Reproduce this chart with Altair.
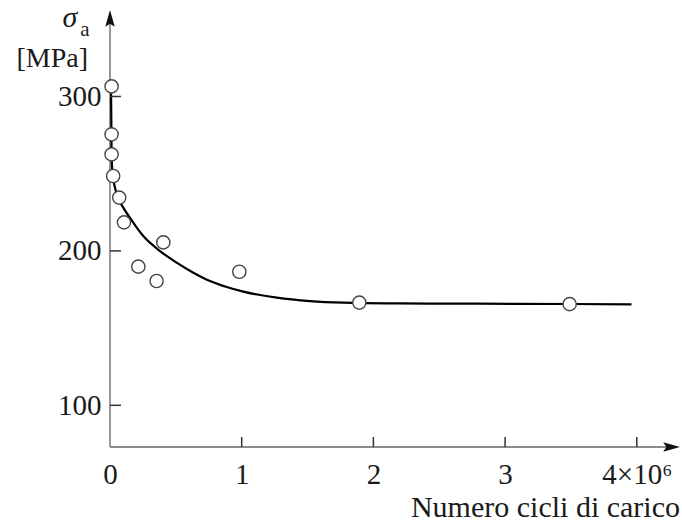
import altair as alt
import pandas as pd

# Measured points (cycles in units of 10^6, stress amplitude in MPa)
pts_x = [0.012, 0.012, 0.012, 0.024, 0.07, 0.106, 0.405, 0.215, 0.354, 0.982, 1.893, 3.49]
pts_y = [306.5, 275.5, 262.5, 248.5, 234.5, 218.5, 205.5, 189.8, 180.5, 186.5, 166.5, 165.5]

# Fitted curve
curve_x = [0.008, 0.010, 0.012, 0.018, 0.035, 0.063, 0.101, 0.177, 0.253, 0.38, 0.506,
           0.633, 0.759, 0.886, 1.012, 1.266, 1.519, 1.77, 2.2, 2.8, 3.5, 3.96]
curve_y = [302, 285, 265, 251, 242, 234, 228, 218.3, 209.6, 199.9, 192.4,
           185.9, 180.5, 176.6, 173.6, 169.7, 167.5, 166.5, 166.0, 165.8, 165.6, 165.3]

x_ticks = [0, 1, 2, 3, 4]
y_ticks = [100, 200, 300]
x_title = "Numero cicli di carico"
y_title_sym = "σ"
y_title_sub = "a"
y_title_unit = "[MPa]"

W, H = 570, 437
X_DOMAIN = [0, 4.328]
Y_DOMAIN = [73, 356]
FONT = "Liberation Serif"
AXIS_COLOR = "#8c8c8c"

pts = pd.DataFrame({"x": pts_x, "y": pts_y})
curve = pd.DataFrame({"x": curve_x, "y": curve_y})
xt = pd.DataFrame({"x": x_ticks[1:]})
yt = pd.DataFrame({"y": y_ticks})

xscale = alt.Scale(domain=X_DOMAIN, nice=False, zero=False)
yscale = alt.Scale(domain=Y_DOMAIN, nice=False, zero=False)

x_axis = alt.Axis(values=x_ticks, format="d", domain=False, ticks=False, grid=False,
                  labelFont=FONT, labelFontSize=29, labelColor="#1a1a1a",
                  labelPadding=13, labelFlush=False, title=None,
                  labelExpr="datum.value == 4 ? '4×10⁶' : datum.label")
y_axis = alt.Axis(values=y_ticks, format="d", domain=False, ticks=False, grid=False,
                  labelFont=FONT, labelFontSize=29, labelColor="#1a1a1a",
                  labelPadding=9, labelFlush=False, title=None)

line = alt.Chart(curve).mark_line(color="black", strokeWidth=2.2, interpolate="monotone").encode(
    x=alt.X("x:Q", scale=xscale, axis=x_axis),
    y=alt.Y("y:Q", scale=yscale, axis=y_axis),
)

points = alt.Chart(pts).mark_point(shape="circle", filled=True, fill="white",
                                   stroke="#444444", strokeWidth=1.4, size=175, opacity=1).encode(
    x=alt.X("x:Q", scale=xscale),
    y=alt.Y("y:Q", scale=yscale),
)

# axis lines
yline = alt.Chart().mark_rule(color=AXIS_COLOR, strokeWidth=1.8).encode(
    x=alt.value(0), y=alt.value(6), y2=alt.value(H))
xline = alt.Chart().mark_rule(color=AXIS_COLOR, strokeWidth=1.8).encode(
    x=alt.value(0), x2=alt.value(W - 6), y=alt.value(H))

# inward ticks
xticks_m = alt.Chart(xt).mark_rule(color="#333333", strokeWidth=1.5).encode(
    x=alt.X("x:Q", scale=xscale), y=alt.value(H - 10), y2=alt.value(H))
yticks_m = alt.Chart(yt).mark_rule(color="#333333", strokeWidth=1.5).encode(
    y=alt.Y("y:Q", scale=yscale), x=alt.value(0), x2=alt.value(11))

# arrowheads
up_arrow = alt.Chart().mark_point(shape="M0,-1L-0.45,0.6L0,0.3L0.45,0.6Z", filled=True,
                                  color="#111111", size=440, opacity=1).encode(
    x=alt.value(0), y=alt.value(10.5))
right_arrow = alt.Chart().mark_point(shape="M1,0L-0.6,-0.45L-0.3,0L-0.6,0.45Z", filled=True,
                                     color="#111111", size=440, opacity=1).encode(
    x=alt.value(W - 10.5), y=alt.value(H))

# titles
t_x = alt.Chart().mark_text(text=x_title, font=FONT, fontSize=30, align="right",
                            baseline="alphabetic", color="#1a1a1a").encode(
    x=alt.value(W), y=alt.value(507))
t_sym = alt.Chart().mark_text(text=y_title_sym, font=FONT, fontSize=30, fontStyle="italic",
                              align="center", baseline="alphabetic", color="#1a1a1a").encode(
    x=alt.value(-40), y=alt.value(17))
t_sub = alt.Chart().mark_text(text=y_title_sub, font=FONT, fontSize=21,
                              align="center", baseline="alphabetic", color="#1a1a1a").encode(
    x=alt.value(-25), y=alt.value(26))
t_unit = alt.Chart().mark_text(text=y_title_unit, font=FONT, fontSize=28,
                               align="right", baseline="alphabetic", color="#1a1a1a").encode(
    x=alt.value(-22), y=alt.value(57))

chart = alt.layer(
    yline, xline, line, yticks_m, xticks_m, points, up_arrow, right_arrow,
    t_x, t_sym, t_sub, t_unit
).properties(
    width=W, height=H,
    padding={"left": 110, "top": 10, "right": 2, "bottom": 77},
    autosize="none",
    background="white",
).configure_view(stroke=None)

chart.save("out.html", embed_options={"renderer": "svg", "actions": False})
